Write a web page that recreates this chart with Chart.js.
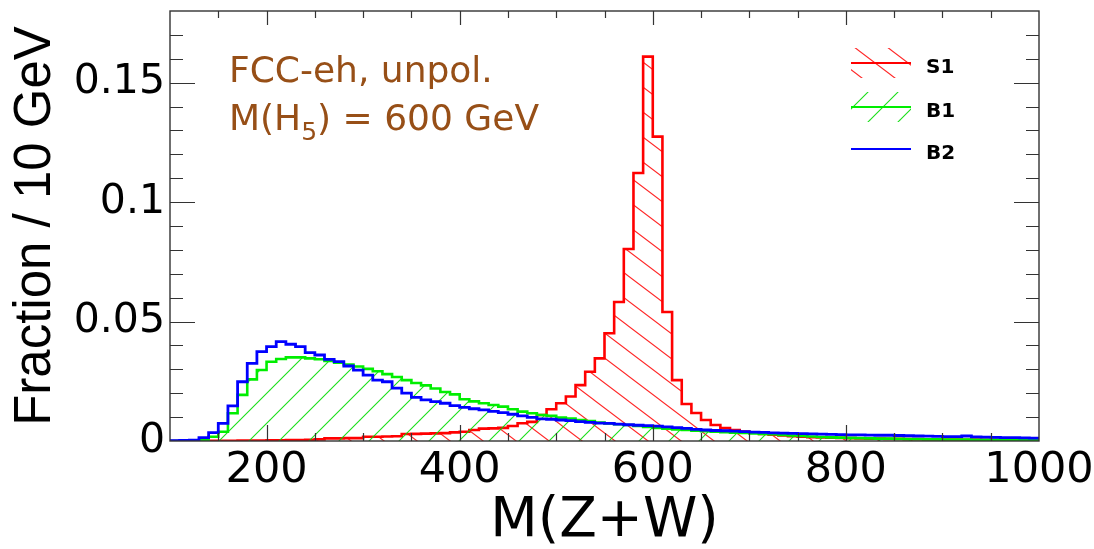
<!DOCTYPE html>
<html><head><meta charset="utf-8">
<script src="https://cdn.jsdelivr.net/npm/chart.js@4"></script>
<style>html,body{margin:0;padding:0;background:#fff;}canvas{display:block;}</style>
</head><body>
<canvas id="c" width="1094" height="549"></canvas>
<script>
// ---- data (fraction per 10 GeV bin, bins from 100 to 1000 GeV) ----
const binLowEdges = [100,110,120,130,140,150,160,170,180,190,200,210,220,230,240,250,260,270,280,290,
  300,310,320,330,340,350,360,370,380,390,400,410,420,430,440,450,460,470,480,490,
  500,510,520,530,540,550,560,570,580,590,600,610,620,630,640,650,660,670,680,690,
  700,710,720,730,740,750,760,770,780,790,800,810,820,830,840,850,860,870,880,890,
  900,910,920,930,940,950,960,970,980,990];
const binUpperEdge = 1000;
const seriesNames = ['S1','B1','B2'];
const s1Values = [0,0,0,0,0.0001,0.0001,0.0001,0.0002,0.0002,0.0002,
  0.0003,0.0003,0.0004,0.0004,0.0005,0.0007,0.0011,0.0011,0.0012,0.0012,
  0.0018,0.0018,0.0019,0.0020,0.0029,0.0030,0.0031,0.0032,0.0033,0.0036,
  0.0039,0.0046,0.0052,0.0053,0.0055,0.0063,0.0074,0.0080,0.0109,0.0133,
  0.0158,0.0186,0.0234,0.0290,0.0346,0.0451,0.0582,0.0804,0.1122,0.1609,
  0.1274,0.0540,0.0255,0.0155,0.0117,0.0088,0.0067,0.0054,0.0046,0.0040,
  0.0035,0.0030,0.0026,0.0023,0.0020,0.0018,0.0016,0.0015,0.0014,0.0013,
  0.0012,0.0011,0.0010,0.0010,0.0009,0.0009,0.0008,0.0008,0.0007,0.0007,
  0.0006,0.0006,0.0005,0.0006,0.0005,0.0005,0.0004,0.0005,0.0004,0.0004];
const b1Values = [0,0,0.0001,0.0004,0.0018,0.0039,0.0116,0.0193,0.0258,0.0297,
  0.0332,0.0343,0.0350,0.0350,0.0346,0.0342,0.0335,0.0328,0.0320,0.0312,
  0.0302,0.0292,0.0280,0.0268,0.0255,0.0243,0.0233,0.0220,0.0205,0.0195,
  0.0175,0.0166,0.0158,0.0151,0.0144,0.0133,0.0123,0.0116,0.0109,0.0105,
  0.0098,0.0094,0.0088,0.0083,0.0077,0.0073,0.0070,0.0067,0.0063,0.0059,
  0.0055,0.0052,0.0048,0.0046,0.0043,0.0041,0.0039,0.0037,0.0035,0.0034,
  0.0032,0.0030,0.0028,0.0025,0.0023,0.0021,0.0019,0.0017,0.0015,0.0014,
  0.0013,0.0012,0.0011,0.0010,0.0010,0.0009,0.0008,0.0008,0.0007,0.0007,
  0.0006,0.0006,0.0006,0.0005,0.0005,0.0005,0.0004,0.0004,0.0004,0.0004];
const b2Values = [0.0001,0.0002,0.0004,0.0014,0.0035,0.0074,0.0147,0.0248,0.0325,0.0374,
  0.0395,0.0416,0.0405,0.0395,0.0370,0.0360,0.0342,0.0332,0.0314,0.0297,
  0.0276,0.0255,0.0248,0.0221,0.0200,0.0183,0.0172,0.0165,0.0158,0.0148,
  0.0141,0.0135,0.0130,0.0124,0.0119,0.0112,0.0105,0.0099,0.0093,0.0091,
  0.0088,0.0085,0.0081,0.0078,0.0075,0.0074,0.0071,0.0068,0.0066,0.0064,
  0.0062,0.0059,0.0056,0.0053,0.0049,0.0046,0.0044,0.0043,0.0041,0.0039,
  0.0037,0.0036,0.0034,0.0033,0.0032,0.0031,0.0030,0.0029,0.0028,0.0027,
  0.0026,0.0026,0.0025,0.0024,0.0024,0.0023,0.0022,0.0021,0.0020,0.0019,
  0.0018,0.0018,0.0021,0.0017,0.0016,0.0015,0.0014,0.0014,0.0013,0.0012];
const xTickValues = [200,400,600,800,1000];
const xTickLabels = ['200','400','600','800','1000'];
const yTickValues = [0,0.05,0.1,0.15];
const yTickLabels = ['0','0.05','0.1','0.15'];
const xAxisTitle = 'M(Z+W)';
const yAxisTitle = 'Fraction / 10 GeV';
const noteLine1 = 'FCC-eh, unpol.';
const noteLine2 = ['M(H', '5', ') = 600 GeV'];

// ---- helpers ----
function toSteps(values) {
  const pts = binLowEdges.map((x, i) => ({x: x, y: values[i]}));
  pts.push({x: binUpperEdge, y: values[values.length - 1]});
  return pts;
}
function hatch(color, w, h, dir, lw) {
  const c = document.createElement('canvas');
  c.width = w; c.height = h;
  const g = c.getContext('2d');
  g.strokeStyle = color; g.lineWidth = lw;
  g.beginPath();
  for (const ox of [-w, 0, w]) for (const oy of [-h, 0, h]) {
    if (dir === 'back') { g.moveTo(ox, oy); g.lineTo(ox + w, oy + h); }
    else { g.moveTo(ox, oy + h); g.lineTo(ox + w, oy); }
  }
  g.stroke();
  return g.createPattern(c, 'repeat');
}
const RED = '#ff0000', GREEN = '#00ee00', BLUE = '#0000ff';
const redHatch = hatch('rgba(255,0,0,0.85)', 33, 25, 'back', 1.1);
const greenHatch = hatch('rgba(0,220,0,0.9)', 30, 30, 'fwd', 1.1);

Chart.defaults.font.family = 'DejaVu Sans';
Chart.defaults.color = '#000';

const framePlugin = {
  id: 'frame',
  afterDatasetsDraw(chart) {
    const {ctx, chartArea: a, scales: {x, y}} = chart;
    ctx.save();
    ctx.strokeStyle = '#333';
    ctx.lineWidth = 1.2;
    ctx.beginPath();
    for (let v = 150; v < 1000; v += 50) {
      const px = Math.round(x.getPixelForValue(v)) + 0.5;
      const big = v % 200 === 0;
      ctx.moveTo(px, a.bottom); ctx.lineTo(px, a.bottom - (big ? 16 : 8));
      ctx.moveTo(px, a.top); ctx.lineTo(px, a.top + (big ? 14 : 7));
    }
    for (let k = 1; k < 18; k++) {
      const py = Math.round(y.getPixelForValue(k / 100)) + 0.5;
      const len = k % 5 === 0 ? 25 : 13;
      ctx.moveTo(a.left, py); ctx.lineTo(a.left + len, py);
      ctx.moveTo(a.right, py); ctx.lineTo(a.right - len, py);
    }
    ctx.stroke();
    ctx.lineWidth = 1.4;
    ctx.strokeRect(a.left, a.top, a.right - a.left, a.bottom - a.top);
    ctx.restore();
  }
};

const notePlugin = {
  id: 'notes',
  afterDraw(chart) {
    const ctx = chart.ctx;
    ctx.save();
    ctx.fillStyle = '#974f17';
    ctx.textBaseline = 'alphabetic';
    ctx.font = '36px "DejaVu Sans"';
    ctx.fillText(noteLine1, 229, 82);
    let xx = 229;
    ctx.fillText(noteLine2[0], xx, 130);
    xx += ctx.measureText(noteLine2[0]).width;
    ctx.font = '25px "DejaVu Sans"';
    ctx.fillText(noteLine2[1], xx, 140);
    xx += ctx.measureText(noteLine2[1]).width;
    ctx.font = '36px "DejaVu Sans"';
    ctx.fillText(noteLine2[2], xx, 130);

    // legend
    const ds = chart.data.datasets;
    const rows = [{y: 63, pat: redHatch}, {y: 107, pat: greenHatch}, {y: 149, pat: null}];
    const x0 = 851, x1 = 911;
    rows.forEach((r, i) => {
      const d = ds[i];
      if (r.pat) {
        ctx.fillStyle = r.pat;
        ctx.fillRect(x0, r.y - 15, x1 - x0, 30);
      }
      ctx.strokeStyle = d.borderColor;
      ctx.lineWidth = 2.2;
      ctx.beginPath(); ctx.moveTo(x0, r.y); ctx.lineTo(x1, r.y); ctx.stroke();
      ctx.fillStyle = '#000';
      ctx.font = 'bold 20px "DejaVu Sans"';
      ctx.fillText(d.label, 926, r.y + 10);
    });
    ctx.restore();
  }
};

new Chart(document.getElementById('c'), {
  type: 'line',
  data: {
    datasets: [
      {label: seriesNames[0], data: toSteps(s1Values), borderColor: RED, backgroundColor: redHatch,
       fill: 'origin', stepped: true, borderWidth: 2.6, pointRadius: 0, order: 3},
      {label: seriesNames[1], data: toSteps(b1Values), borderColor: GREEN, backgroundColor: greenHatch,
       fill: 'origin', stepped: true, borderWidth: 2.6, pointRadius: 0, order: 2},
      {label: seriesNames[2], data: toSteps(b2Values), borderColor: BLUE, backgroundColor: 'rgba(0,0,0,0)',
       fill: false, stepped: true, borderWidth: 2.8, pointRadius: 0, order: 1}
    ]
  },
  options: {
    responsive: false,
    animation: false,
    events: [],
    layout: {padding: {left: 0, right: 55, top: 11, bottom: 0}},
    plugins: {legend: {display: false}, tooltip: {enabled: false}},
    scales: {
      x: {
        type: 'linear', min: 100, max: 1000,
        afterBuildTicks: s => { s.ticks = xTickValues.map(v => ({value: v})); },
        afterFit: s => { s.height = 108; s.paddingLeft = 0; s.paddingRight = 0; },
        grid: {display: false, drawTicks: false},
        border: {display: false},
        ticks: {callback: v => { const i = xTickValues.indexOf(v); return i < 0 ? '' : xTickLabels[i]; },
                font: {size: 43}, color: '#000', padding: 4, maxRotation: 0, autoSkip: false},
        title: {display: true, text: xAxisTitle, font: {size: 55, lineHeight: 1}, color: '#000', padding: {top: 0, bottom: 0}}
      },
      y: {
        min: 0, max: 0.18,
        afterBuildTicks: s => { s.ticks = yTickValues.map(v => ({value: v})); },
        afterFit: s => { s.width = 170; s.paddingTop = 0; s.paddingBottom = 0; },
        grid: {display: false, drawTicks: false},
        border: {display: false},
        ticks: {callback: v => { const i = yTickValues.indexOf(v); return i < 0 ? '' : yTickLabels[i]; },
                font: {size: 41}, color: '#000', padding: 5, autoSkip: false},
        title: {display: true, text: yAxisTitle, font: {family: 'Liberation Sans', size: 51, lineHeight: 1}, color: '#000', padding: {top: 10, bottom: 0}}
      }
    }
  },
  plugins: [framePlugin, notePlugin]
});
</script>
</body></html>
